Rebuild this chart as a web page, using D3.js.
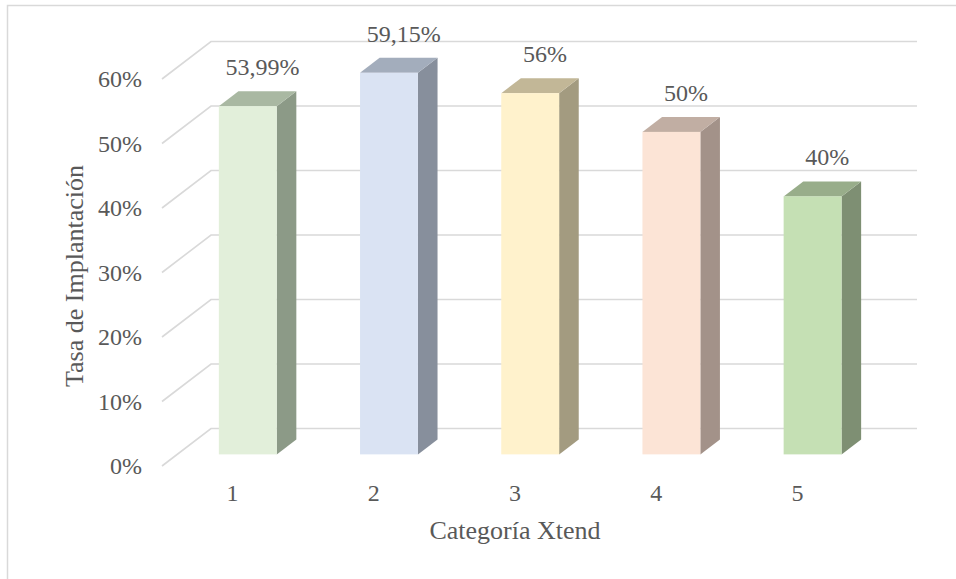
<!DOCTYPE html>
<html>
<head>
<meta charset="utf-8">
<script src="https://cdn.jsdelivr.net/npm/d3@7"></script>
<style>
  html, body { margin: 0; padding: 0; background: #fff; }
  svg { display: block; }
  text { font-family: "Liberation Serif", "Times New Roman", serif; fill: #595959; }
</style>
</head>
<body>
<svg id="chart" width="956" height="579"></svg>
<script>
// Chart data
const categories = ["1", "2", "3", "4", "5"];
const values = [0.5399, 0.5915, 0.56, 0.50, 0.40];
const valueLabels = ["53,99%", "59,15%", "56%", "50%", "40%"];
const yTicks = [0, 0.1, 0.2, 0.3, 0.4, 0.5, 0.6];
const yTickLabels = ["0%", "10%", "20%", "30%", "40%", "50%", "60%"];
const frontColors = ["#E2EFDA", "#DAE3F3", "#FFF2CC", "#FCE4D6", "#C5E0B4"];
const sideColors  = ["#8C9A87", "#878F9C", "#A39B80", "#A39289", "#7E8F73"];
const topColors   = ["#A9B8A2", "#A3ADBC", "#C2B797", "#C1AEA3", "#98AD8A"];

const svg = d3.select("#chart");

// Oblique projection: depth d in [0,1] shifts points right and up
const DX = 49, DY = -37.5;
const x = d3.scaleBand().domain(categories).range([162, 868])
  .paddingInner(0.59).paddingOuter(0.295);
const y = d3.scaleLinear().domain([0, 0.6]).range([466, 79]);
const px = (xv, d) => xv + d * DX;
const py = (yv, d) => yv + d * DY;
const depth0 = 0.31, depth1 = 0.71;

// Outer chart border
svg.append("rect")
  .attr("x", 7.5).attr("y", 5.5).attr("width", 960).attr("height", 600)
  .attr("fill", "none").attr("stroke", "#D9D9D9").attr("stroke-width", 1.5);

// Gridlines on side wall and back wall
const gx0 = x.range()[0], gx1 = x.range()[1];
svg.append("g").selectAll("path").data(yTicks).join("path")
  .attr("d", v => `M${gx0},${y(v)} L${px(gx0, 1)},${py(y(v), 1)} L${px(gx1, 1)},${py(y(v), 1)}`)
  .attr("fill", "none").attr("stroke", "#D9D9D9").attr("stroke-width", 1.6);

// Y tick labels
svg.append("g").selectAll("text").data(yTicks).join("text")
  .attr("x", 142).attr("y", v => y(v) + 8)
  .attr("text-anchor", "end").attr("font-size", 24)
  .text((v, i) => yTickLabels[i]);

// 3D bars
const bars = svg.append("g").selectAll("g").data(values).join("g");
bars.each(function (v, i) {
  const g = d3.select(this);
  const xl = x(categories[i]), xr = xl + x.bandwidth();
  const yb = y(0), yt = y(v);
  // right side face
  g.append("path")
    .attr("d", `M${px(xr, depth0)},${py(yb, depth0)} L${px(xr, depth1)},${py(yb, depth1)} L${px(xr, depth1)},${py(yt, depth1)} L${px(xr, depth0)},${py(yt, depth0)} Z`)
    .attr("fill", sideColors[i]);
  // top face
  g.append("path")
    .attr("d", `M${px(xl, depth0)},${py(yt, depth0)} L${px(xr, depth0)},${py(yt, depth0)} L${px(xr, depth1)},${py(yt, depth1)} L${px(xl, depth1)},${py(yt, depth1)} Z`)
    .attr("fill", topColors[i]);
  // front face
  g.append("rect")
    .attr("x", px(xl, depth0)).attr("y", py(yt, depth0))
    .attr("width", x.bandwidth()).attr("height", yb - yt)
    .attr("fill", frontColors[i]);
  // value label
  g.append("text")
    .attr("x", px(xl + x.bandwidth() / 2, 0.61))
    .attr("y", py(yt, depth0) - 31)
    .attr("text-anchor", "middle").attr("font-size", 24)
    .text(valueLabels[i]);
});

// Category labels
svg.append("g").selectAll("text").data(categories).join("text")
  .attr("x", c => x(c) + x.bandwidth() / 2)
  .attr("y", 501)
  .attr("text-anchor", "middle").attr("font-size", 24)
  .text(c => c);

// Axis titles
svg.append("text")
  .attr("x", 515).attr("y", 539)
  .attr("text-anchor", "middle").attr("font-size", 26)
  .text("Categoría Xtend");
svg.append("text")
  .attr("transform", "translate(83,276) rotate(-90)")
  .attr("text-anchor", "middle").attr("font-size", 26)
  .text("Tasa de Implantación");
</script>
</body>
</html>
